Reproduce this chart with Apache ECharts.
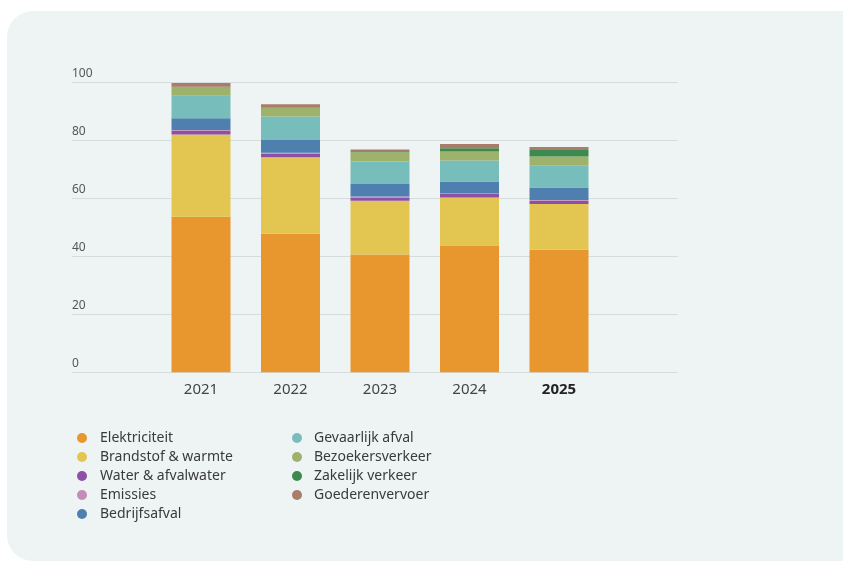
<!DOCTYPE html>
<html>
<head>
<meta charset="utf-8">
<script src="https://cdn.jsdelivr.net/npm/echarts@6/dist/echarts.min.js"></script>
<style>
  html, body { margin: 0; padding: 0; background: #ffffff; }
  #card { position: absolute; left: 7px; top: 11px; width: 860px; height: 550px; background: #EEF4F4; border-radius: 26px; }
  #chart { position: absolute; left: 0; top: 0; width: 843px; height: 571px; }
</style>
</head>
<body>
<div id="card"></div>
<div id="chart"></div>
<script>
const years = ['2021', '2022', '2023', '2024', '2025'];
const yTicks = [0, 20, 40, 60, 80, 100];

const elektriciteit   = [53.7, 47.8, 40.7, 43.6, 42.3];
const brandstof       = [28.4, 26.5, 18.5, 16.8, 15.8];
const water           = [1.3, 1.2, 1.2, 1.2, 1.1];
const emissies        = [0.3, 0.3, 0.3, 0.3, 0.3];
const bedrijfsafval   = [4.0, 4.4, 4.3, 4.0, 4.3];
const gevaarlijk      = [7.8, 8.1, 7.8, 7.2, 7.7];
const bezoekers       = [2.9, 3.1, 3.2, 3.1, 3.0];
const zakelijk        = [0.2, 0.2, 0.1, 1.2, 2.3];
const goederen        = [1.3, 1.0, 0.8, 1.4, 1.0];

const seriesNames = ['Elektriciteit', 'Brandstof & warmte', 'Water & afvalwater', 'Emissies', 'Bedrijfsafval',
                     'Gevaarlijk afval', 'Bezoekersverkeer', 'Zakelijk verkeer', 'Goederenvervoer'];
const seriesData = [elektriciteit, brandstof, water, emissies, bedrijfsafval, gevaarlijk, bezoekers, zakelijk, goederen];
const colors = ['#E8972F', '#E3C652', '#8E4FA6', '#C38DB8', '#4E7FAF', '#76BDBC', '#9EB26B', '#3E8A4E', '#A87D6A'];

const FONT = 'Noto Sans';
const chart = echarts.init(document.getElementById('chart'));

const series = seriesNames.map((name, i) => ({
  name: name,
  type: 'bar',
  stack: 'total',
  xAxisIndex: 1,
  yAxisIndex: 1,
  barWidth: 59,
  itemStyle: { color: colors[i] },
  data: seriesData[i]
}));

const legendText = { fontFamily: FONT, fontSize: 14, color: '#3a3a3a', lineHeight: 14, padding: [0, 0, 0, 8] };

chart.setOption({
  animation: false,
  color: colors,
  textStyle: { fontFamily: FONT },
  grid: [
    { left: 72, right: 165, top: 82.7, height: 289.6 },
    { left: 156.25, width: 447.5, top: 82.7, height: 289.6 }
  ],
  xAxis: [
    { type: 'value', gridIndex: 0, show: false, min: 0, max: 1 },
    {
      type: 'category', gridIndex: 1, data: years,
      axisLine: { show: false }, axisTick: { show: false },
      axisLabel: {
        margin: 10, fontFamily: FONT, fontSize: 15, color: '#444',
        formatter: (v) => v === '2025' ? '{b|' + v + '}' : v,
        rich: { b: { fontFamily: FONT, fontSize: 15, fontWeight: 'bold', color: '#222' } }
      }
    }
  ],
  yAxis: [
    {
      type: 'value', gridIndex: 0, min: 0, max: 100, interval: 20,
      axisLine: { show: false }, axisTick: { show: false },
      splitLine: { lineStyle: { color: '#D6DCDC', width: 1 } },
      axisLabel: {
        inside: true, margin: 0, align: 'left', verticalAlign: 'bottom',
        padding: [0, 0, 3, 0],
        fontFamily: FONT, fontSize: 12, color: '#555',
        formatter: (v) => yTicks.includes(v) ? String(v) : ''
      }
    },
    { type: 'value', gridIndex: 1, min: 0, max: 100, interval: 20, show: false, splitLine: { show: false } }
  ],
  legend: [
    {
      data: seriesNames.slice(0, 5), orient: 'vertical', left: 72, top: 426,
      icon: 'circle', itemWidth: 10, itemHeight: 10, itemGap: 5,
      textStyle: legendText
    },
    {
      data: seriesNames.slice(5), orient: 'vertical', left: 287, top: 426,
      icon: 'circle', itemWidth: 10, itemHeight: 10, itemGap: 5,
      textStyle: Object.assign({}, legendText, { padding: [0, 0, 0, 7] })
    }
  ],
  series: series
});
</script>
</body>
</html>
